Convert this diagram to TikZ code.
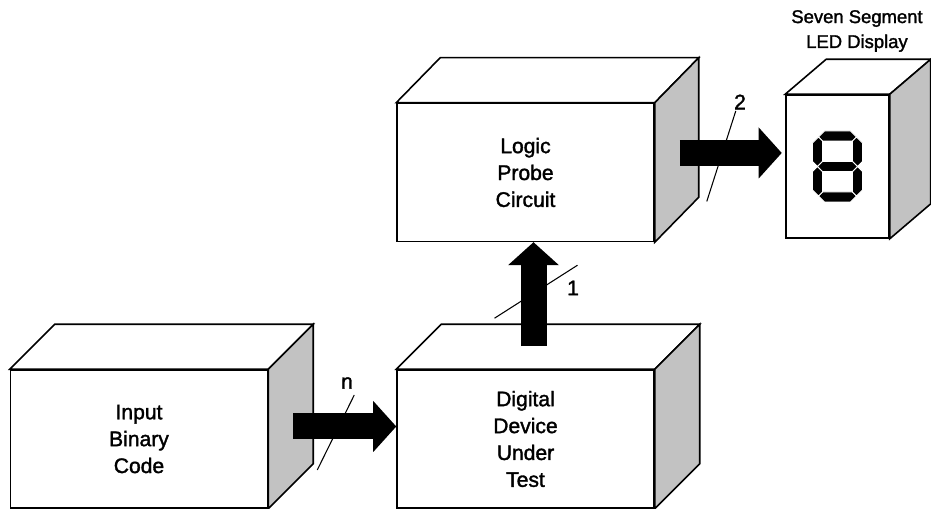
\documentclass[tikz,border=0pt]{standalone}
\usepackage{fontspec}
\setmainfont{Liberation Sans}[RawFeature={embolden=1.6}]
\usetikzlibrary{arrows.meta,positioning,calc}

\definecolor{sidegray}{RGB}{194,194,194}

% top and side faces of a box whose front face is node #1, depth (#2,#3)
\newcommand{\cubefaces}[3]{%
  \draw[cubeline,fill=white] (#1.north west) -- ++(#2,#3) -- ($(#1.north east)+(#2,#3)$) -- (#1.north east) -- cycle;
  \draw[cubeline,fill=sidegray] (#1.north east) -- ++(#2,#3) -- ($(#1.south east)+(#2,#3)$) -- (#1.south east) -- cycle;
}

\begin{document}
\begin{tikzpicture}[
        x=0.02cm, y=-0.02cm,
        cubeline/.style={line width=0.9pt,line join=miter},
        frontbox/.style={rectangle,draw,cubeline,fill=white,minimum width=5.14cm,minimum height=2.76cm,
            align=center,inner sep=0pt,font=\fontsize{12}{15.3}\selectfont},
        busarrow/.style={line width=0.52cm,-{Triangle[length=0.46cm,width=1.02cm,line width=0pt]}},
        busmark/.style={line width=0.6pt},
        buslabel/.style={font=\fontsize{12}{14}\selectfont,inner sep=0pt},
        segment/.style={fill=black,draw=white,line width=0.5pt},
    ]
    \useasboundingbox (0,0) rectangle (931,509);

    % === boxes ===
    \node[frontbox] (input) at (139,439) {Input\\Binary\\Code};
    \node[frontbox,right=2.56cm of input] (dut) {Digital\\Device\\Under\\Test};
    \node[frontbox,above=2.54cm of dut] (logic) {Logic\\Probe\\Circuit};
    \node[frontbox,minimum width=2.06cm,minimum height=2.86cm] (disp) at (837.5,166.5) {};

    \cubefaces{input}{45}{-45}
    \cubefaces{dut}{45}{-45}
    \cubefaces{logic}{44}{-45}
    \cubefaces{disp}{41}{-35}

    \node[font=\fontsize{10.5}{14.2}\selectfont,align=center,inner sep=0pt] (displabel) at (857,31) {Seven Segment\\LED Display};

    % === seven segment digit ===
    \begin{scope}[shift={(disp.center)}]
        \foreach \sy in {1,-1}
            \filldraw[segment,yscale=\sy] (-13,-35.5) -- (13,-35.5) -- (19,-29.5) -- (15,-25.5) -- (-15,-25.5) -- (-19,-29.5) -- cycle;
        \foreach \sx/\sy in {1/1,-1/1,1/-1,-1/-1}
            \filldraw[segment,xscale=\sx,yscale=\sy] (-25,-23.5) -- (-19,-29.5) -- (-15,-25.5) -- (-15,-5) -- (-20,0) -- (-25,-5) -- cycle;
        \filldraw[segment] (-20,0) -- (-15,-5) -- (15,-5) -- (20,0) -- (15,5) -- (-15,5) -- cycle;
    \end{scope}

    % === buses ===
    \coordinate (nstart) at ($(input.east)+(25,-12.5)$);
    \coordinate (onestart) at ($(dut.north)+(8,-23)$);
    \coordinate (twostart) at ($(logic.east)+(25,-19.5)$);

    \draw[busarrow] (nstart) -- (nstart -| dut.west);
    \draw[busarrow] (onestart) -- (onestart |- logic.south);
    \draw[busarrow,shorten >=0.07cm] (twostart) -- (twostart -| disp.west);

    \draw[busmark] ($(nstart)+(61,-31.5)$) -- ($(nstart)+(24,43.5)$);
    \draw[busmark] ($(onestart)+(-39,-28)$) -- ($(onestart)+(44,-81)$);
    \draw[busmark] ($(twostart)+(56,-42)$) -- ($(twostart)+(27,48.5)$);

    \node[buslabel] (nlab) at (347,383) {n};
    \node[buslabel] (onelab) at (573,288) {1};
    \node[buslabel] (twolab) at (740,102) {2};
\end{tikzpicture}
\end{document}
